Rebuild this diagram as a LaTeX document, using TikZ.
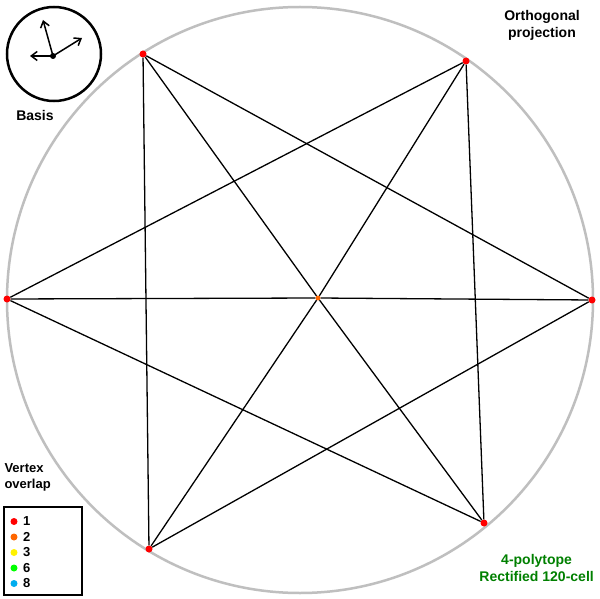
\documentclass[tikz,border=0pt]{standalone}
\usepackage{fontspec}
\setmainfont{Liberation Sans}
\usetikzlibrary{arrows.meta}

\tikzset{
  vtx/.style={circle, fill=#1, inner sep=0pt, minimum size=7pt},
  edge/.style={line width=1.3pt},
  lbl/.style={font=\bfseries\fontsize{14}{17}\selectfont, align=center},
  basis/.style={line width=1.5pt, -{Straight Barb[length=6pt,width=9pt]}},
}

\begin{document}
\begin{tikzpicture}[x=1pt, y=-1pt]
  \useasboundingbox (0,0) rectangle (600,599);
  \fill[white] (0,0) rectangle (600,599);
  % projection envelope
  \draw[gray!50, line width=2.5pt] (300,300) circle (293);

  % vertices
  \node[vtx=red] (a) at (143,54) {};
  \node[vtx=red] (b) at (466,61) {};
  \node[vtx=red] (c) at (592,300) {};
  \node[vtx=red] (d) at (484,523) {};
  \node[vtx=red] (e) at (149,549) {};
  \node[vtx=red] (f) at (7,299) {};
  \node[vtx=orange!80!red, minimum size=5pt] (o) at (318,298) {};

  % edges
  \draw[edge] (f) -- (o) -- (c);
  \draw[edge] (a) -- (e);
  \draw[edge] (b) -- (d);
  \draw[edge] (a) -- (o) -- (d);
  \draw[edge] (b) -- (o) -- (e);
  \draw[edge] (f) -- (b);
  \draw[edge] (f) -- (d);
  \draw[edge] (c) -- (a);
  \draw[edge] (c) -- (e);

  % basis
  \draw[line width=2.5pt] (54,54) circle (47);
  \coordinate (bo) at (53,56);
  \fill (bo) circle (3pt);
  \coordinate (bx) at (43,20);
  \coordinate (by) at (82,38);
  \coordinate (bz) at (30,56);
  \foreach \t in {bx,by,bz} \draw[basis] (bo) -- (\t);
  \node[lbl] (basislbl) at (35,115) {Basis};

  % titles
  \node[lbl] (proj) at (542,25) {Orthogonal\\projection};
  \node[lbl, text=green!50!black, anchor=east, inner sep=0pt] (name) at (594,568) {4-polytope\\Rectified 120-cell};

  % legend
  \node[lbl, align=left, anchor=west, font=\bfseries\fontsize{13}{16}\selectfont] (leglbl) at (1,477) {Vertex\\overlap};
  \draw[line width=2.5pt] (4,507) rectangle (82,595);
  \foreach \c/\n [count=\i] in {red/1, orange!80!red/2, yellow/3, green/6, cyan/8} {
    \node[vtx=\c] (l\i) at (14,506+15.5*\i) {};
    \node[lbl, anchor=west, inner sep=1pt, font=\bfseries\fontsize{13}{15}\selectfont] (t\i) at (22,506+15.5*\i) {\n};
  }
\end{tikzpicture}
\end{document}
